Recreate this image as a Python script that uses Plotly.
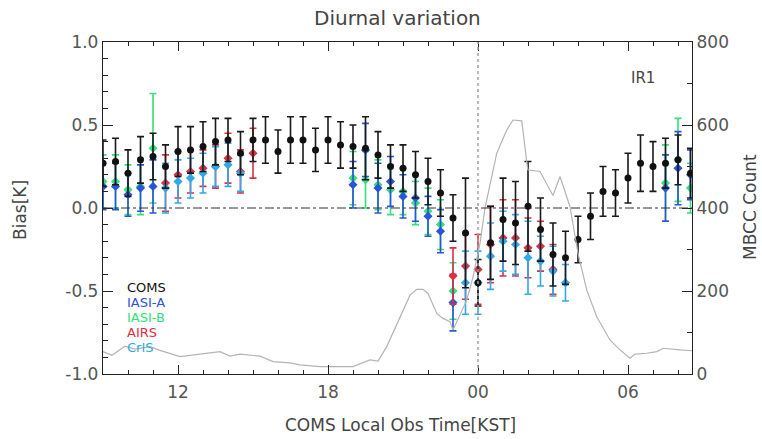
import plotly.graph_objects as go

# ---------------- data ----------------
coms_hours = [9.0, 9.5, 10.0, 10.5, 11.0, 11.5, 12.0, 12.5, 13.0, 13.5, 14.0, 14.5,
              15.0, 15.5, 16.0, 16.5, 17.0, 17.5, 18.0, 18.5, 19.0, 19.5, 20.0, 20.5,
              21.0, 21.5, 22.0, 22.5, 23.0, 23.5, 24.0, 24.5, 25.0, 25.5, 26.0, 26.5,
              27.0, 27.5, 28.0, 28.5, 29.0, 29.5, 30.0, 30.5, 31.0, 31.5, 32.0, 32.5]
coms_bias = [0.27, 0.28, 0.21, 0.29, 0.31, 0.25, 0.34, 0.35, 0.37, 0.40, 0.41, 0.33,
             0.41, 0.41, 0.34, 0.41, 0.41, 0.35, 0.41, 0.38, 0.37, 0.36, 0.32, 0.25,
             0.24, 0.20, 0.16, 0.09, -0.06, -0.15, -0.45, -0.21, -0.07, -0.09, 0.01, -0.13,
             -0.28, -0.30, -0.19, -0.05, 0.10, 0.09, 0.18, 0.27, 0.25, 0.27, 0.29, 0.21]
coms_err = [0.14, 0.14, 0.14, 0.14, 0.14, 0.13, 0.15, 0.14, 0.15, 0.14, 0.13, 0.13,
            0.13, 0.14, 0.13, 0.14, 0.14, 0.13, 0.14, 0.14, 0.13, 0.19, 0.14, 0.13,
            0.14, 0.14, 0.14, 0.14, 0.14, 0.33, 0.14, 0.22, 0.25, 0.25, 0.27, 0.19,
            0.19, 0.16, 0.14, 0.14, 0.15, 0.14, 0.15, 0.17, 0.15, 0.15, 0.15, 0.15]

iasia_hours = [9.0, 9.5, 10.0, 10.5, 11.0, 19.0, 19.5, 20.0, 20.5, 21.0, 21.5, 22.0,
               22.5, 23.0, 31.5, 32.0, 32.5]
iasia_bias = [0.13, 0.13, 0.08, 0.12, 0.13, 0.14, 0.35, 0.12, 0.16, 0.07, 0.06, -0.05,
              -0.14, -0.57, 0.12, 0.24, 0.20]
iasia_err = [0.14, 0.14, 0.13, 0.14, 0.16, 0.14, 0.16, 0.15, 0.15, 0.13, 0.14, 0.12,
             0.13, 0.17, 0.20, 0.22, 0.15]

iasib_hours = [9.0, 9.5, 10.0, 10.5, 11.0, 19.0, 19.5, 20.0, 20.5, 21.0, 21.5, 22.0,
               22.5, 23.0, 31.5, 32.0, 32.5]
iasib_bias = [0.16, 0.16, 0.11, 0.13, 0.36, 0.18, 0.17, 0.14, 0.11, 0.10, 0.03, -0.02,
              -0.10, -0.50, 0.15, 0.29, 0.12]
iasib_err = [0.16, 0.16, 0.15, 0.17, 0.33, 0.16, 0.17, 0.15, 0.15, 0.14, 0.13, 0.14,
             0.15, 0.17, 0.23, 0.25, 0.15]

airs_hours = [11.5, 12.0, 12.5, 13.0, 13.5, 14.0, 14.5, 15.0, 23.0, 23.5, 24.0, 24.5,
              25.0, 25.5, 26.0, 26.5, 27.0]
airs_bias = [0.15, 0.20, 0.22, 0.24, 0.25, 0.30, 0.22, 0.33, -0.41, -0.35, -0.37, -0.22,
             -0.18, -0.18, -0.24, -0.23, -0.37]
airs_err = [0.17, 0.14, 0.13, 0.11, 0.13, 0.15, 0.13, 0.15, 0.17, 0.20, 0.21, 0.23,
            0.23, 0.23, 0.18, 0.15, 0.15]

cris_hours = [11.5, 12.0, 12.5, 13.0, 13.5, 14.0, 14.5, 23.5, 24.0, 24.5, 25.0, 25.5,
              26.0, 26.5, 27.0, 27.5]
cris_bias = [0.12, 0.16, 0.18, 0.21, 0.25, 0.26, 0.21, -0.45, -0.45, -0.29, -0.20, -0.22,
             -0.30, -0.32, -0.38, -0.45]
cris_err = [0.15, 0.13, 0.12, 0.12, 0.12, 0.13, 0.11, 0.19, 0.19, 0.20, 0.18, 0.18,
            0.22, 0.15, 0.15, 0.11]

count_hours = [9.0, 9.36, 9.88, 10.28, 10.88, 11.28, 12.08, 12.88, 13.68, 14.08, 14.48,
               15.28, 15.8, 16.48, 16.88, 17.68, 19.0, 19.68, 20.0, 20.35, 20.88, 21.28,
               21.55, 21.8, 22.0, 22.35, 22.6, 22.88, 23.0, 23.28, 23.55, 23.8, 24.08,
               24.28, 24.75, 25.15, 25.4, 25.75, 25.99, 26.48, 27.0, 27.28, 27.68, 28.0,
               28.35, 28.75, 29.28, 29.68, 30.08, 30.28, 30.75, 31.15, 31.41, 32.08, 32.56]
count_vals = [54, 45, 67, 60, 66, 57, 42, 48, 54, 43, 48,
              43, 30, 27, 22, 18, 18, 34, 31, 66, 138, 190,
              204, 204, 194, 146, 134, 126, 106, 142, 178, 234, 315,
              400, 532, 588, 612, 610, 492, 488, 430, 476, 403, 291,
              202, 138, 82, 58, 38, 48, 50, 54, 62, 58, 56]

x_tick_vals = [12, 18, 24, 30]
x_tick_text = ["12", "18", "00", "06"]
y_tick_vals = [-1.0, -0.5, 0.0, 0.5, 1.0]
y_tick_text = ["-1.0", "-0.5", "0.0", "0.5", "1.0"]
y2_tick_vals = [0, 200, 400, 600, 800]

series_names = ["COMS", "IASI-A", "IASI-B", "AIRS", "CrIS"]
series_colors = ["#111111", "#2a55d6", "#33e07a", "#dd3040", "#30a8ea"]

# ---------------- figure ----------------
FONT = "DejaVu Sans"
fig = go.Figure()

fig.add_trace(go.Scatter(x=count_hours, y=count_vals, yaxis="y2", mode="lines",
                         line=dict(color="#b4b4b4", width=1.2), hoverinfo="skip",
                         showlegend=False))

sat = [(iasib_hours, iasib_bias, iasib_err, 2, "diamond"),
       (iasia_hours, iasia_bias, iasia_err, 1, "diamond"),
       (airs_hours, airs_bias, airs_err, 3, "diamond"),
       (cris_hours, cris_bias, cris_err, 4, "diamond")]
for hrs, vals, errs, ci, sym in sat:
    fig.add_trace(go.Scatter(
        x=hrs, y=vals, mode="markers", name=series_names[ci],
        marker=dict(color=series_colors[ci], size=7, symbol=sym),
        error_y=dict(type="data", array=errs, visible=True, color=series_colors[ci],
                     thickness=1.6, width=3.5),
        showlegend=False))

fig.add_trace(go.Scatter(
    x=coms_hours, y=coms_bias, mode="markers", name="COMS",
    marker=dict(color="#111111", size=7, symbol="circle"),
    error_y=dict(type="data", array=coms_err, visible=True, color="#1a1a1a",
                 thickness=1.6, width=3.5),
    showlegend=False))

PL, PR, PT, PB = 103, 692, 42, 374
W, H = 762, 439

def px(xp):
    return (xp - PL) / (PR - PL)

def py(yp):
    return (PB - yp) / (PB - PT)

shapes = [
    dict(type="line", xref="paper", yref="y", x0=0, x1=1, y0=0, y1=0,
         line=dict(color="#333333", width=1, dash="dashdot")),
    dict(type="line", xref="x", yref="paper", x0=24, x1=24, y0=0, y1=1,
         line=dict(color="#a0a0a0", width=1.5, dash="dot")),
]

annotations = []
legend_y = [287, 302, 317, 332, 347]
for name, col, yy in zip(series_names, series_colors, legend_y):
    annotations.append(dict(text=name, x=px(125), y=py(yy), xref="paper", yref="paper",
                            xanchor="left", yanchor="middle", showarrow=False,
                            font=dict(family=FONT, size=13, color=col)))
annotations.append(dict(text="IR1", x=px(643), y=py(78), xref="paper", yref="paper",
                        xanchor="center", yanchor="middle", showarrow=False,
                        font=dict(family=FONT, size=15, color="#444444")))
annotations.append(dict(text="Bias[K]", x=px(20), y=py(210), xref="paper", yref="paper",
                        textangle=-90, xanchor="center", yanchor="middle", showarrow=False,
                        font=dict(family=FONT, size=17, color="#444444")))
annotations.append(dict(text="MBCC Count", x=px(750), y=py(207), xref="paper", yref="paper",
                        textangle=-90, xanchor="center", yanchor="middle", showarrow=False,
                        font=dict(family=FONT, size=17, color="#444444")))
annotations.append(dict(text="COMS Local Obs Time[KST]", x=px(400), y=py(425), xref="paper",
                        yref="paper", xanchor="center", yanchor="middle", showarrow=False,
                        font=dict(family=FONT, size=17, color="#444444")))
annotations.append(dict(text="Diurnal variation", x=px(397), y=py(18), xref="paper",
                        yref="paper", xanchor="center", yanchor="middle", showarrow=False,
                        font=dict(family=FONT, size=20, color="#444444")))

axis_common = dict(showline=True, linecolor="#222222", linewidth=1.3, showgrid=False,
                   zeroline=False, ticks="inside", tickcolor="#222222",
                   tickfont=dict(family=FONT, size=17, color="#555555"))

fig.update_layout(
    width=W, height=H,
    margin=dict(l=PL, r=W - PR, t=PT, b=H - PB),
    paper_bgcolor="white", plot_bgcolor="white",
    showlegend=False,
    xaxis=dict(range=[9, 32.56], tickvals=x_tick_vals, ticktext=x_tick_text,
               ticklen=9, tickwidth=1.2, mirror="ticks", ticklabelstandoff=2,
               minor=dict(dtick=1, tick0=0, ticks="inside", ticklen=4, tickcolor="#222222"),
               **axis_common),
    yaxis=dict(range=[-1, 1], tickvals=y_tick_vals, ticktext=y_tick_text,
               ticklen=10, tickwidth=1.2,
               minor=dict(dtick=0.1, tick0=0, ticks="inside", ticklen=5, tickcolor="#222222"),
               **axis_common),
    yaxis2=dict(range=[0, 800], tickvals=y2_tick_vals, overlaying="y", side="right",
                ticklen=10, tickwidth=1.2,
                minor=dict(dtick=100, tick0=0, ticks="inside", ticklen=5, tickcolor="#222222"),
                **axis_common),
    shapes=shapes,
    annotations=annotations,
)

fig.write_html("out.html")
